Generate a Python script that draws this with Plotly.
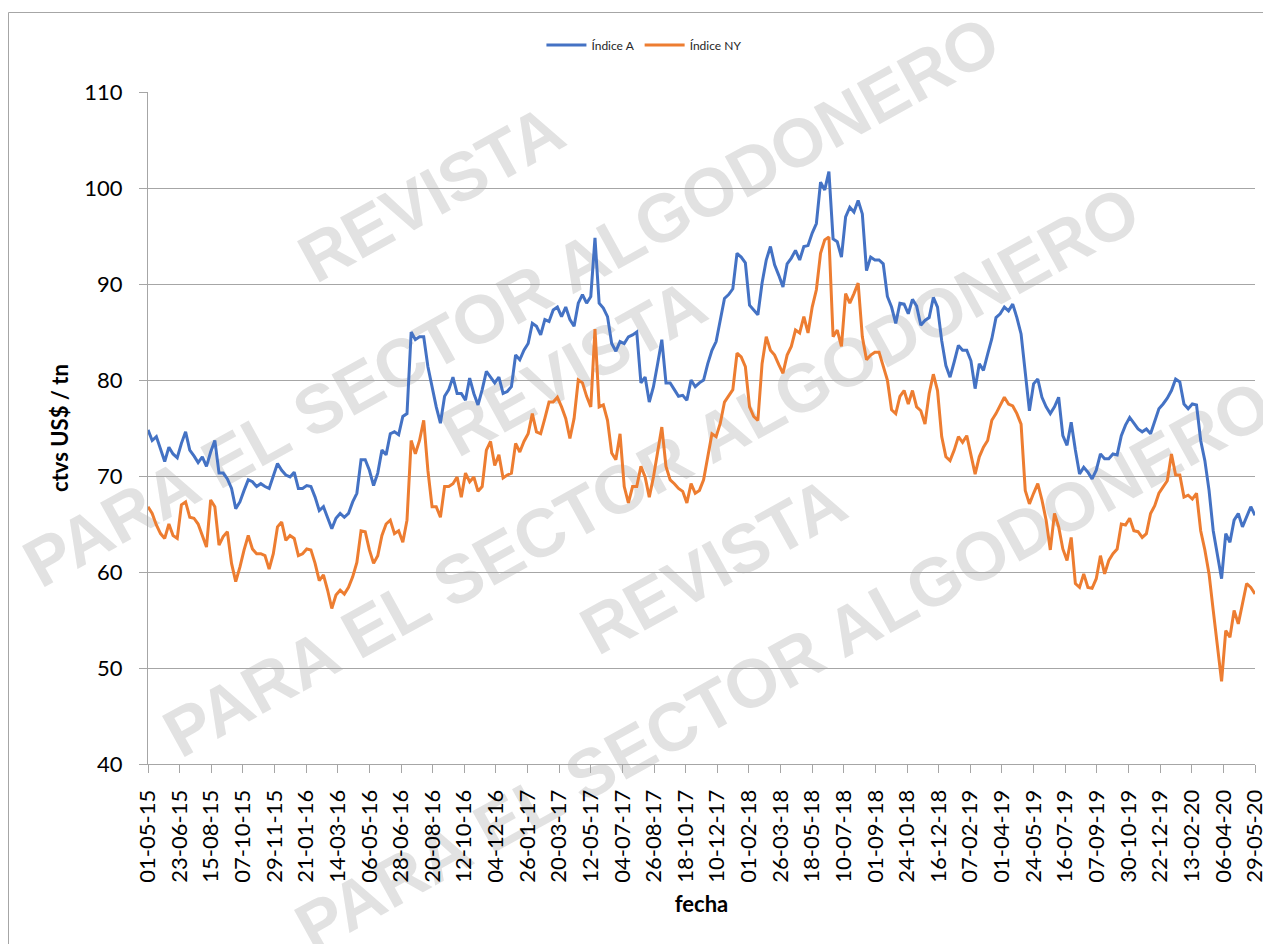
import plotly.graph_objects as go
import pandas as pd

# Weekly readings (every 7 days from 01-05-2015 to 29-05-2020)
dates = pd.date_range("2015-05-01", periods=266, freq="7D")

indice_a = [
    74.8, 73.7, 74.1, 72.7, 71.5, 73.0, 72.3, 71.9, 73.4, 74.6, 72.7, 72.1, 71.4, 72.0, 71.0, 72.5,
    73.7, 70.3, 70.3, 69.7, 68.7, 66.6, 67.3, 68.5, 69.6, 69.4, 68.9, 69.2, 68.9, 68.7, 69.9, 71.3,
    70.6, 70.1, 69.9, 70.4, 68.7,
    68.7, 69.0, 68.9, 67.8, 66.4, 66.8, 65.7, 64.5, 65.6, 66.1, 65.7, 66.1, 67.3, 68.2, 71.7, 71.7,
    70.6, 69.0, 70.3, 72.7, 72.2, 74.4, 74.6, 74.3, 76.2, 76.5, 85.0, 84.2, 84.5, 84.5, 81.4, 79.3,
    77.2, 75.5, 78.3, 79.0,
    80.3, 78.6, 78.6, 77.9, 80.2, 78.6, 77.4, 79.0, 80.9, 80.3, 79.7, 80.3, 78.6, 78.8, 79.3, 82.6,
    82.1, 83.1, 83.8, 85.9, 85.6, 84.7, 86.3, 86.1, 87.3, 87.6, 86.6, 87.6, 86.3, 85.6, 88.0, 88.9,
    88.0, 88.7, 94.8, 88.0,
    87.5, 86.6, 83.8, 83.0, 84.0, 83.8, 84.5, 84.7, 85.0, 79.7, 80.3, 77.7, 79.3, 81.7, 84.2, 79.7,
    79.7, 79.0, 78.3, 78.4, 77.9, 80.0, 79.3, 79.7, 80.0, 81.7, 83.1, 84.0, 86.3, 88.5, 88.9, 89.5,
    93.2, 92.8, 92.2, 87.8,
    87.3, 86.8, 90.1, 92.5, 93.9, 92.0, 90.9, 89.7, 92.1, 92.7, 93.5, 92.5, 93.9, 94.0, 95.3, 96.3,
    100.6, 99.8, 101.7, 94.7, 94.4, 92.8, 97.0, 98.0, 97.5, 98.7, 97.3, 91.4, 92.8, 92.5, 92.5, 92.1,
    88.7, 87.6, 85.9, 88.0,
    87.9, 86.9, 88.4, 87.7, 85.7, 86.2, 86.5, 88.6, 87.6, 84.1, 81.5, 80.3, 81.9, 83.6, 83.1, 83.1,
    82.0, 79.1, 81.7, 81.0, 82.7, 84.3, 86.5, 86.9, 87.6, 87.2, 87.9, 86.5, 84.8, 80.6, 76.8, 79.6,
    80.1, 78.2, 77.2,
    76.5, 77.2, 78.2, 74.2, 73.2, 75.6, 72.7, 70.2, 70.9, 70.4, 69.7, 70.6, 72.3, 71.8, 71.8, 72.3,
    72.2, 74.2, 75.3, 76.1, 75.5, 74.9, 74.6, 74.9, 74.4, 75.8, 77.0, 77.5, 78.1, 78.9, 80.1, 79.8,
    77.5, 77.0, 77.5, 77.4, 73.7, 71.6, 68.5, 64.3, 62.0, 59.3, 64.0, 63.1, 65.4, 66.1, 64.7, 65.7,
    66.8, 65.9,
]

indice_ny = [
    66.8, 66.1, 64.9, 64.0, 63.5, 65.0, 63.8, 63.5, 67.0, 67.3, 65.7, 65.6, 65.0, 63.8, 62.6, 67.5,
    66.8, 62.8, 63.7, 64.2, 60.9, 59.0, 60.5, 62.3, 63.8, 62.4, 61.9, 61.9, 61.7, 60.3, 61.9, 64.7,
    65.2, 63.3, 63.8, 63.5, 61.7,
    61.9, 62.4, 62.3, 60.9, 59.1, 59.7, 58.1, 56.2, 57.6, 58.1, 57.7, 58.4, 59.5, 61.0, 64.3, 64.2,
    62.3, 60.9, 61.7, 63.8, 65.0, 65.4, 64.0, 64.3, 63.1, 65.4, 73.7, 72.3, 73.7, 75.8, 70.6, 66.8,
    66.8, 65.7, 68.9, 68.9,
    69.2, 69.9, 67.8, 70.3, 69.4, 69.9, 68.4, 68.9, 72.7, 73.6, 71.1, 72.2, 69.8, 70.1, 70.3, 73.4,
    72.5, 73.6, 74.4, 76.5, 74.6, 74.4, 76.0, 77.7, 77.7, 78.2, 77.2, 76.0, 73.9, 76.0, 80.0, 79.7,
    78.3, 77.2, 85.3, 77.2,
    77.4, 75.8, 72.4, 71.7, 74.4, 68.9, 67.2, 68.9, 68.9, 71.0, 69.9, 67.8, 69.9, 72.4, 75.1, 71.0,
    69.6, 69.2, 68.7, 68.4, 67.2, 69.2, 68.2, 68.5, 69.6, 72.0, 74.4, 74.1, 75.5, 77.7, 78.4, 79.0,
    82.8, 82.4, 81.4, 77.2,
    76.2, 75.8, 81.7, 84.5, 83.1, 82.6, 81.6, 80.7, 82.6, 83.5, 85.2, 84.9, 86.6, 84.9, 87.6, 89.4,
    93.2, 94.6, 94.9, 84.5, 85.2, 83.5, 89.0, 88.0, 89.0, 90.1, 84.5, 82.1, 82.6, 82.9, 82.9, 81.4,
    80.0, 76.9, 76.5, 78.3,
    78.9, 77.5, 78.9, 77.2, 76.8, 75.4, 78.6, 80.6, 78.9, 74.1, 72.0, 71.6, 72.7, 74.1, 73.5, 74.2,
    72.0, 70.2, 72.0, 73.0, 73.7, 75.8, 76.5, 77.3, 78.2, 77.5, 77.3, 76.5, 75.4, 68.5, 67.1, 68.2,
    69.2, 67.5, 65.4,
    62.3, 66.1, 64.7, 62.4, 61.2, 63.6, 58.8, 58.4, 59.8, 58.4, 58.3, 59.3, 61.7, 59.8, 61.2, 61.9,
    62.4, 65.0, 64.9, 65.6, 64.3, 64.2, 63.6, 64.0, 66.1, 66.9, 68.2, 68.9, 69.5, 72.3, 70.1, 70.1,
    67.8, 68.0, 67.6, 68.2, 64.3, 62.3, 59.8, 56.0, 52.5, 48.6, 53.9, 53.2, 56.0, 54.6, 56.7, 58.8,
    58.4, 57.7,
]

tick_dates = pd.date_range("2015-05-01", "2020-05-29", freq="53D")
tick_labels = [d.strftime("%d-%m-%y") for d in tick_dates]

y_ticks = [40, 50, 60, 70, 80, 90, 100, 110]

series_names = ["Índice A", "Índice NY"]
series_colors = ["#4472C4", "#ED7D31"]

# watermark text centres, in page pixels
watermarks = [
    ("REVISTA", 428, 188),
    ("PARA EL SECTOR ALGODONERO", 508, 296),
    ("REVISTA", 570, 362),
    ("PARA EL SECTOR ALGODONERO", 648, 466),
    ("REVISTA", 710, 560),
    ("PARA EL SECTOR ALGODONERO", 780, 660),
]

OFF = 8  # default body margin of the html page
W, H = 1271 - OFF, 944 - OFF
# plot area in page pixels: x 148..1255, y 92..764
ML, MT = 148 - OFF, 92 - OFF
MR = W - (1255 - OFF)
MB = H - (764 - OFF)
PW, PH = W - ML - MR, H - MT - MB


def px_to_paper(x, y):
    # page pixels -> paper coordinates
    return (x - OFF - ML) / PW, (MT + PH - (y - OFF)) / PH


FONT = "Lato, Carlito, Calibri, sans-serif"
GRID = "#a6a6a6"

fig = go.Figure()
for name, vals, col in zip(series_names, [indice_a, indice_ny], series_colors):
    fig.add_trace(go.Scatter(x=dates, y=vals, mode="lines", name=name,
                             line=dict(color=col, width=3)))

shapes = []
# outer chart frame
fx0, fy0 = px_to_paper(8.5, 980)
fx1, fy1 = px_to_paper(1300, 12.5)
shapes.append(dict(type="rect", xref="paper", yref="paper", x0=fx0, y0=fy0, x1=fx1, y1=fy1,
                   line=dict(color="#a6a6a6", width=1), layer="below"))
for text, cx, cy in watermarks:
    ax0, ay0 = px_to_paper(cx - 5, cy)
    ax1, ay1 = px_to_paper(cx + 5, cy)
    shapes.append(dict(type="line", xref="paper", yref="paper", x0=ax0, y0=ay0, x1=ax1, y1=ay1,
                       line=dict(color="rgba(0,0,0,0)", width=1), layer="below",
                       label=dict(text=text, textangle=-29, textposition="middle",
                                  xanchor="center", yanchor="middle",
                                  font=dict(family="Liberation Sans, Arial, sans-serif", size=68,
                                            color="#e2e2e2", weight="bold"))))

fig.update_layout(
    width=W, height=H,
    margin=dict(l=ML, r=MR, t=MT, b=MB, autoexpand=False),
    paper_bgcolor="white", plot_bgcolor="white",
    font=dict(family=FONT, color="black"),
    showlegend=True,
    legend=dict(orientation="h", x=0.448, xanchor="center", y=1.07, yanchor="middle",
                font=dict(size=12, family=FONT, color="#262626"), itemwidth=40,
                bgcolor="rgba(0,0,0,0)"),
    shapes=shapes,
)

fig.update_xaxes(
    type="date",
    range=[dates[0], dates[-1]],
    tickmode="array", tickvals=tick_dates, ticktext=tick_labels,
    tickangle=-90, tickfont=dict(size=22, family=FONT, color="black"),
    ticks="outside", ticklen=8, tickcolor=GRID, tickwidth=1,
    showgrid=False, showline=True, linecolor=GRID, linewidth=1, zeroline=False,
    automargin=False, ticklabelstandoff=8,
    title=dict(text="<b>fecha</b>", font=dict(size=22, family=FONT, color="black"), standoff=14),
)
fig.update_yaxes(
    range=[40, 110], tickmode="array", tickvals=y_ticks,
    tickfont=dict(size=22, family=FONT, color="black"),
    ticks="outside", ticklen=8, tickcolor=GRID, tickwidth=1,
    showgrid=True, gridcolor=GRID, gridwidth=1,
    showline=True, linecolor=GRID, linewidth=1, zeroline=False,
    automargin=False, ticklabelstandoff=12,
    title=dict(text="<b>ctvs US$ / tn</b>", font=dict(size=22, family=FONT, color="black"), standoff=9),
)

fig.write_html("out.html")
